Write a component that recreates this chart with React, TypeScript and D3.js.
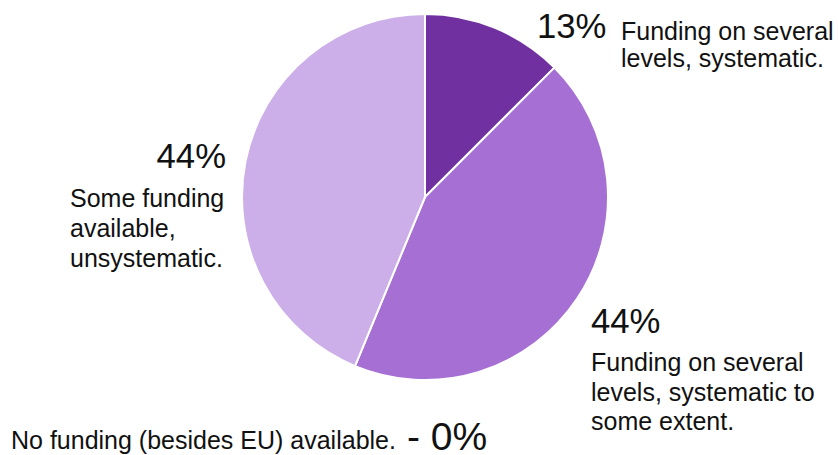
import * as d3 from "d3";

// shares of respondents (2, 7, 7, 0 of 16)
const categories = [
  "Funding on several levels, systematic.",
  "Funding on several levels, systematic to some extent.",
  "Some funding available, unsystematic.",
  "No funding (besides EU) available.",
];
const shares = [12.5, 43.75, 43.75, 0];
const colors = ["#7030A0", "#A66FD4", "#CCAEE8", "#E6D8F3"];

// where each label block sits (layout only)
const labelLayout = [
  { pct: [537, 38, "start"], lines: ["Funding on several", "levels, systematic."], tx: 621, ty: 40, lh: 27, anchor: "start" },
  { pct: [591, 333, "start"], lines: ["Funding on several", "levels, systematic to", "some extent."], tx: 591, ty: 371, lh: 29.5, anchor: "start" },
  { pct: [226, 168, "end"], lines: ["Some funding", "available,", "unsystematic."], tx: 70, ty: 207, lh: 30, anchor: "start" },
];

const W = 838;
const H = 455;
const cx = 425;
const cy = 197;
const radius = 183;
const font = "'Liberation Sans', Arial, sans-serif";

export default function App() {
  const pie = d3
    .pie<number>()
    .sort(null)
    .value((d) => d)
    .startAngle(0)
    .endAngle(Math.PI * 2);
  const arcs = pie(shares);
  const arc = d3.arc<d3.PieArcDatum<number>>().innerRadius(0).outerRadius(radius);
  const fmt = (v: number) => `${Math.round(v)}%`;

  return (
    <svg
      width={W}
      height={H}
      style={{ position: "absolute", left: 0, top: 0, background: "#fff" }}
      fontFamily={font}
    >
      <g transform={`translate(${cx},${cy})`}>
        {arcs.map((a, i) =>
          a.value > 0 ? (
            <path
              key={i}
              d={arc(a) || ""}
              fill={colors[i]}
              stroke="#fff"
              strokeWidth={2}
              strokeLinejoin="round"
            />
          ) : null
        )}
      </g>

      {labelLayout.map((l, i) => (
        <g key={i}>
          <text
            x={l.pct[0] as number}
            y={l.pct[1] as number}
            fontSize={34.7}
            textAnchor={l.pct[2] as string}
            fill="#111"
          >
            {fmt(shares[i])}
          </text>
          {l.lines.map((ln, j) => (
            <text
              key={j}
              x={l.tx}
              y={l.ty + j * l.lh}
              fontSize={25}
              textAnchor={l.anchor}
              fill="#111"
            >
              {ln}
            </text>
          ))}
        </g>
      ))}

      <text x={11} y={449} fontSize={25} fill="#111">
        {categories[3]}
      </text>
      <text x={407} y={450} fontSize={39} fill="#111">
        {"- " + fmt(shares[3])}
      </text>
    </svg>
  );
}
